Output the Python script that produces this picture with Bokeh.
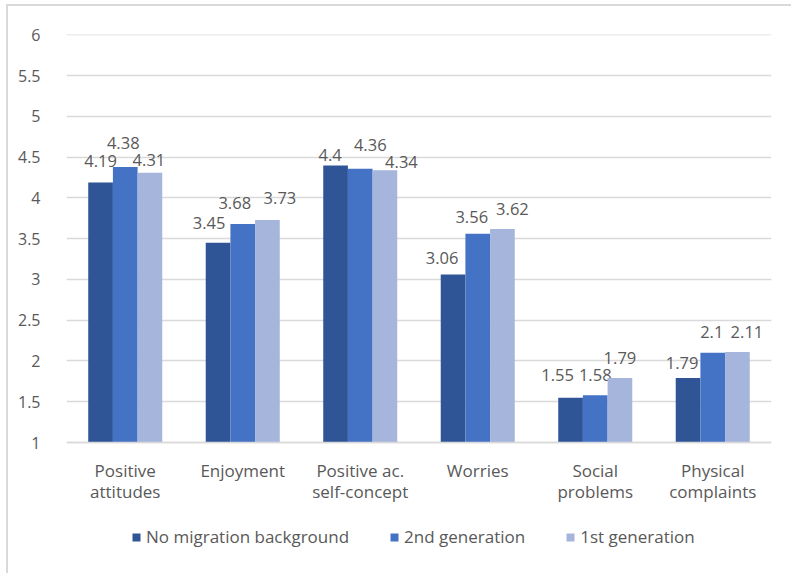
from bokeh.plotting import figure
from bokeh.models import (FactorRange, Range1d, ColumnDataSource, FixedTicker,
                          Legend, LegendItem, Span)
from bokeh.transform import dodge
from bokeh.core.properties import value
from bokeh.embed import file_html
from bokeh.resources import INLINE

categories = ["Positive\nattitudes", "Enjoyment", "Positive ac.\nself-concept",
              "Worries", "Social\nproblems", "Physical\ncomplaints"]
series_names = ["No migration background", "2nd generation", "1st generation"]
no_migration = [4.19, 3.45, 4.4, 3.06, 1.55, 1.79]
second_gen = [4.38, 3.68, 4.36, 3.56, 1.58, 2.1]
first_gen = [4.31, 3.73, 4.34, 3.62, 1.79, 2.11]
y_ticks = [1, 1.5, 2, 2.5, 3, 3.5, 4, 4.5, 5, 5.5, 6]

# styling: label nudges in screen pixels (horizontal shift, distance above bar top)
label_dx = [[0, -9, -5.5, -11, -13, -6],
            [-2, -8, 10, -6, 0, -1],
            [-1, 12.5, 16.5, 10, 0, 9.5]]
label_up = [[22, 20, 10, 17, 23, 15],
            [24, 21, 24, 16.5, 20, 21],
            [12.5, 22, 8, 20, 20, 20]]
colors = ["#2F5597", "#4472C4", "#A6B5DC"]
offsets = [-0.21, 0.0, 0.21]
FONT = "Open Sans"
TXT = "#595959"
GRID = "#D9D9D9"

# layout (pixels): value axis spans 408 px from 1 to 6; frame continues below to hold labels/legend
TOP_PX, AXIS_PX, FRAME_H = 34, 408, 539
y_min, y_max = 1, 6.006
px_per_unit = AXIS_PX / (y_max - y_min)
y_start = y_max - FRAME_H / px_per_unit

p = figure(x_range=FactorRange(*categories), y_range=Range1d(y_start, y_max),
           output_backend="svg", toolbar_location=None,
           min_border_left=66, min_border_right=20, min_border_top=TOP_PX, min_border_bottom=0)
p.frame_width = 705
p.frame_height = FRAME_H
p.outline_line_color = None
p.background_fill_color = "white"
p.border_fill_alpha = 0
p.styles = {
    "background": ("linear-gradient(%s,%s) 6px 4px / 2px 100%% no-repeat, "
                   "linear-gradient(%s,%s) 6px 4px / 100%% 2px no-repeat, white") % (GRID, GRID, GRID, GRID)
}

p.xgrid.grid_line_color = None
p.ygrid.grid_line_color = GRID
p.ygrid.grid_line_width = 1.5
p.ygrid.ticker = FixedTicker(ticks=y_ticks)

series = [no_migration, second_gen, first_gen]
renderers = []
for i, vals in enumerate(series):
    src = ColumnDataSource(dict(cat=categories, val=vals,
                                lab=[str(v) for v in vals],
                                dx=label_dx[i], dy=[-u for u in label_up[i]]))
    r = p.vbar(x=dodge("cat", offsets[i], range=p.x_range), top="val", bottom=y_min,
               width=0.21, source=src, fill_color=colors[i], line_color=None)
    renderers.append(r)
    p.text(x=dodge("cat", offsets[i], range=p.x_range), y="val", text="lab",
           x_offset="dx", y_offset="dy", source=src,
           text_align="center", text_baseline="middle",
           text_font=value(FONT), text_font_size="16.5px", text_color=TXT)

# category axis line and labels
p.add_layout(Span(location=y_min, dimension="width", line_color=GRID, line_width=1.5))
cat_src = ColumnDataSource(dict(cat=categories, y=[y_min] * len(categories)))
p.text(x="cat", y="y", text="cat", source=cat_src, y_offset=16,
       text_align="center", text_baseline="top", text_line_height=0.95,
       text_font=value(FONT), text_font_size="17px", text_color=TXT)

p.yaxis.ticker = FixedTicker(ticks=y_ticks)
p.yaxis.major_label_overrides = {t: str(t) for t in y_ticks}
p.yaxis.axis_line_color = None
p.yaxis.major_tick_line_color = None
p.yaxis.minor_tick_line_color = None
p.yaxis.major_label_standoff = 20
p.yaxis.major_label_text_font = FONT
p.yaxis.major_label_text_font_size = "16px"
p.yaxis.major_label_text_color = TXT
p.xaxis.visible = False

legend = Legend(items=[LegendItem(label=series_names[i], renderers=[renderers[i]]) for i in range(3)],
                orientation="horizontal", location=(65, 25),
                glyph_width=10, glyph_height=10, label_standoff=5, spacing=40,
                padding=0, margin=0, border_line_color=None, background_fill_alpha=0,
                label_text_font=FONT, label_text_font_size="17px", label_text_color=TXT,
                label_height=20)
p.add_layout(legend, "center")

open("out.html", "w").write(file_html(p, INLINE))
